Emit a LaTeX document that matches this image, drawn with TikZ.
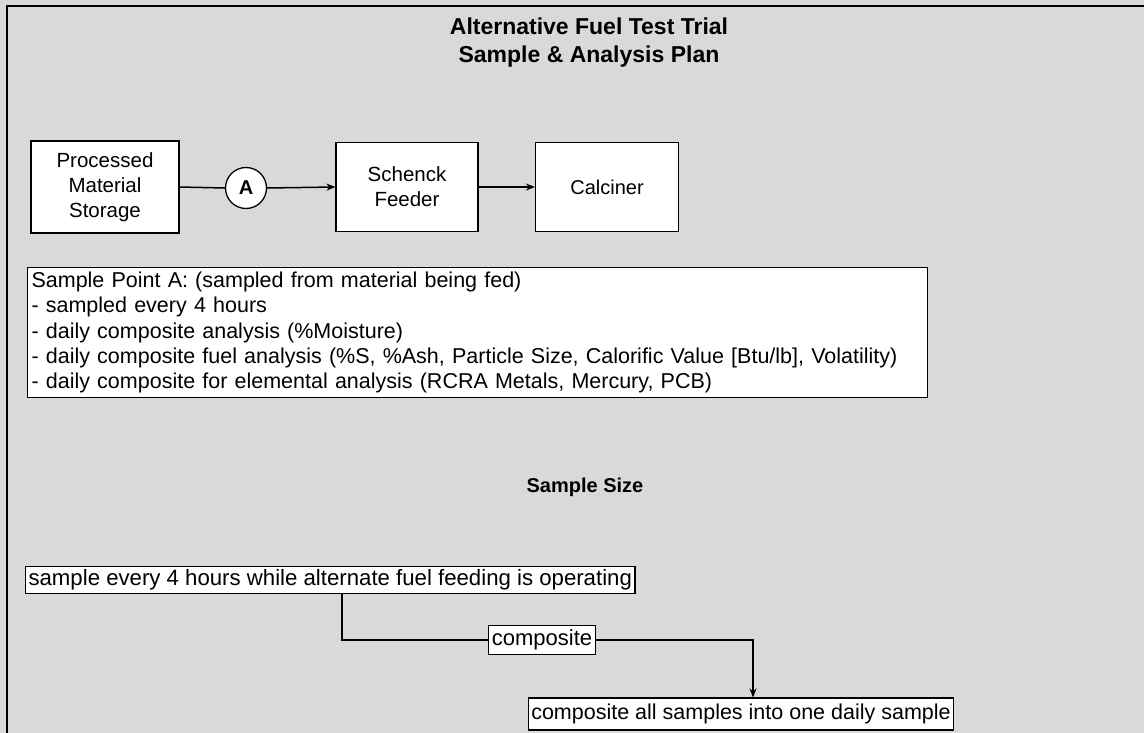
\documentclass[tikz,border=0pt]{standalone}
\usepackage{fontspec}
\setmainfont{Liberation Sans}
\usetikzlibrary{arrows.meta}
\begin{document}
\begin{tikzpicture}[x=1pt,y=-1pt,
  box/.style={draw=black,fill=white,line width=1.1pt,inner sep=0pt,align=center,font=\fontsize{20.5}{25}\selectfont},
  tbox/.style={draw=black,fill=white,line width=1.1pt,inner xsep=3pt,inner ysep=0pt,font=\fontsize{21.5}{25}\selectfont},
  conn/.style={line width=1.5pt,-{Stealth[length=9pt,width=7pt]}},
  plain/.style={line width=1.5pt},
  ttl/.style={font=\bfseries\fontsize{23}{27}\selectfont}]
\useasboundingbox (0,0) rectangle (1144,733);
\fill[gray!30] (0,0) rectangle (1144,733);
\draw[line width=1.3pt] (7,740) -- (7,6) -- (1150,6);
\node[ttl] (t1) at (589,26) {Alternative Fuel Test Trial};
\node[ttl] (t2) at (589,57) {Sample \& Analysis Plan};
\node[box,minimum width=148pt,minimum height=92pt] (pms) at (105,187) {Processed\\Material\\Storage};
\node[draw,fill=white,circle,line width=1.3pt,minimum size=41pt,inner sep=0pt,font=\bfseries\fontsize{20}{24}\selectfont] (A) at (246,188) {A};
\node[box,minimum width=142pt,minimum height=89pt] (sf) at (407,187) {Schenck\\Feeder};
\node[box,minimum width=143pt,minimum height=89pt,font=\fontsize{20}{25}\selectfont] (cal) at (607,187) {Calciner};
\draw[plain] (pms.east) -- (A.west);
\draw[conn] (A.east) -- (sf.west);
\draw[conn] (sf.east) -- (cal.west);
\node[box,anchor=north west,minimum width=900pt,minimum height=130pt,align=left,inner xsep=4pt,inner ysep=2pt,text width=892pt,font=\fontsize{21.5}{25.2}\selectfont] (sp) at (27,267) {Sample Point A: (sampled from material being fed)\\- sampled every 4 hours\\- daily composite analysis (\%Moisture)\\- daily composite fuel analysis (\%S, \%Ash, Particle Size, Calorific Value [Btu/lb], Volatility)\\- daily composite for elemental analysis (RCRA Metals, Mercury, PCB)};
\node[font=\bfseries\fontsize{20}{24}\selectfont] (ss) at (585,487) {Sample Size};
\node[tbox,anchor=north west,minimum height=27pt,font=\fontsize{22.2}{25}\selectfont] (s1) at (25,566) {sample every 4 hours while alternate fuel feeding is operating};
\node[tbox,minimum height=29pt,font=\fontsize{22}{25}\selectfont] (comp) at (542,640) {composite};
\node[tbox,minimum height=32pt] (s2) at (741,714) {composite all samples into one daily sample};
\draw[plain] (s1.south -| 342,0) |- (comp.west);
\draw[conn] (comp.east) -| (s2.north -| 753,0);
\end{tikzpicture}
\end{document}
